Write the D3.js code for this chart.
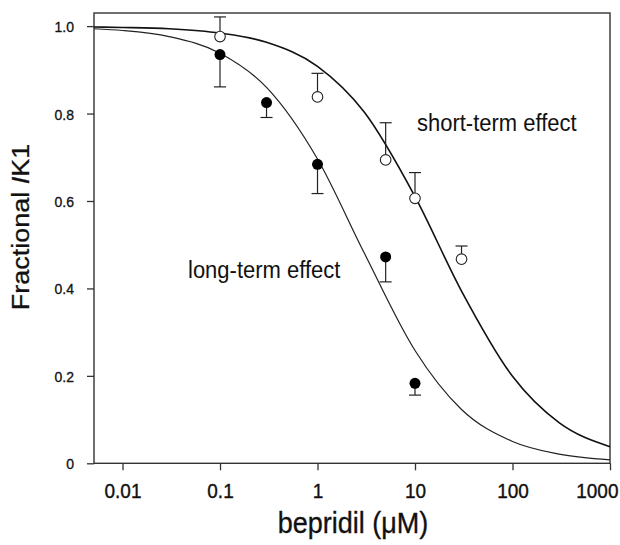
<!DOCTYPE html>
<html>
<head>
<meta charset="utf-8">
<script src="https://cdn.jsdelivr.net/npm/d3@7"></script>
<style>
  body { margin: 0; background: #fff; }
  text { font-family: "Liberation Sans", Arial, sans-serif; fill: #111; }
</style>
</head>
<body>
<svg id="chart" width="620" height="545"></svg>
<script>
// concentrations (uM) and fractional IK1
var longDose  = [0.1, 0.3, 1, 5, 10];
var longMean  = [0.935, 0.825, 0.684, 0.472, 0.183];
var longErr   = [0.074, 0.034, 0.067, 0.057, 0.027];   // drawn downward

var shortDose = [0.1, 1, 5, 10, 30];
var shortMean = [0.976, 0.838, 0.694, 0.606, 0.467];
var shortErr  = [0.045, 0.054, 0.085, 0.059, 0.030];   // drawn upward

// fitted curves, values
var curveDose  = [0.0051, 0.01, 0.03, 0.1, 0.3, 1, 3, 10, 30, 100, 300, 1000];
var longCurve  = [0.994, 0.990, 0.976, 0.938, 0.860, 0.696, 0.482, 0.258, 0.123, 0.050, 0.021, 0.008];
var shortCurve = [0.998, 0.997, 0.994, 0.984, 0.963, 0.908, 0.804, 0.610, 0.394, 0.199, 0.093, 0.038];

var xTicks = [0.01, 0.1, 1, 10, 100, 1000];
var xTickLabels = ["0.01", "0.1", "1", "10", "100", "1000"];
var yTicks = [0, 0.2, 0.4, 0.6, 0.8, 1.0];
var yTickLabels = ["0", "0.2", "0.4", "0.6", "0.8", "1.0"];

var svg = d3.select("#chart");
var L = 94, R = 610, T = 13, B = 463.3;

var x = d3.scaleLog().domain([0.0051, 1000]).range([L, R]);
var y = d3.scaleLinear().domain([0, 1.03]).range([B, T]);

// frame
svg.append("rect")
    .attr("x", L).attr("y", T)
    .attr("width", R - L).attr("height", B - T)
    .attr("fill", "none").attr("stroke", "#333").attr("stroke-width", 1.4);

// x axis
var xAxis = svg.append("g")
    .attr("transform", "translate(0," + B + ")")
    .call(d3.axisBottom(x).tickValues(xTicks).tickSize(7).tickSizeOuter(0)
        .tickFormat(function (d, i) { return xTickLabels[i]; }));
xAxis.select(".domain").remove();
xAxis.selectAll("line").attr("stroke", "#333").attr("stroke-width", 1.3);
xAxis.selectAll("text")
    .attr("y", 0).attr("dy", 0)
    .attr("transform", "translate(0,35) scale(1,1.1)")
    .attr("stroke", "#111").attr("stroke-width", 0.35)
    .style("font-size", "19px");
// last label sits against the right edge, as in the figure
xAxis.selectAll("text").filter(function (d) { return d === 1000; })
    .attr("text-anchor", "end")
    .attr("x", 618 - x(1000));

// y axis
var yAxis = svg.append("g")
    .attr("transform", "translate(" + L + ",0)")
    .call(d3.axisLeft(y).tickValues(yTicks).tickSize(7).tickSizeOuter(0)
        .tickFormat(function (d, i) { return yTickLabels[i]; }));
yAxis.select(".domain").remove();
yAxis.selectAll("line").attr("stroke", "#333").attr("stroke-width", 1.3);
yAxis.selectAll("text")
    .attr("x", 0).attr("dy", 0)
    .attr("transform", "translate(-20,5.5) scale(1,1.1)")
    .attr("stroke", "#111").attr("stroke-width", 0.3)
    .style("font-size", "14px");

// curves
var line = d3.line()
    .x(function (d) { return x(d[0]); })
    .y(function (d) { return y(d[1]); })
    .curve(d3.curveMonotoneX);

svg.append("path")
    .datum(d3.zip(curveDose, shortCurve))
    .attr("d", line)
    .attr("fill", "none").attr("stroke", "#111").attr("stroke-width", 1.6);

svg.append("path")
    .datum(d3.zip(curveDose, longCurve))
    .attr("d", line)
    .attr("fill", "none").attr("stroke", "#222").attr("stroke-width", 1.2);

// error bars
function errorBars(dose, mean, err, dir) {
    var g = svg.append("g").attr("stroke", "#222").attr("stroke-width", 1.2);
    dose.forEach(function (d, i) {
        var yEnd = y(mean[i] + dir * err[i]);
        g.append("line")
            .attr("x1", x(d)).attr("x2", x(d))
            .attr("y1", y(mean[i])).attr("y2", yEnd);
        g.append("line")
            .attr("x1", x(d) - 6).attr("x2", x(d) + 6)
            .attr("y1", yEnd).attr("y2", yEnd);
    });
}
errorBars(longDose, longMean, longErr, -1);
errorBars(shortDose, shortMean, shortErr, 1);

// points
svg.append("g").selectAll("circle")
    .data(d3.zip(longDose, longMean))
    .join("circle")
    .attr("cx", function (d) { return x(d[0]); })
    .attr("cy", function (d) { return y(d[1]); })
    .attr("r", 5.5)
    .attr("fill", "#000");

svg.append("g").selectAll("circle")
    .data(d3.zip(shortDose, shortMean))
    .join("circle")
    .attr("cx", function (d) { return x(d[0]); })
    .attr("cy", function (d) { return y(d[1]); })
    .attr("r", 5.3)
    .attr("fill", "#fff").attr("stroke", "#222").attr("stroke-width", 1.1);

// annotations
svg.append("text")
    .attr("transform", "translate(417,131) scale(1,1.1)")
    .style("font-size", "22px")
    .text("short-term effect");

svg.append("text")
    .attr("transform", "translate(188,278) scale(1,1.1)")
    .style("font-size", "22px")
    .text("long-term effect");

// axis titles
svg.append("text")
    .attr("transform", "translate(353,533) scale(1,1.1)")
    .attr("text-anchor", "middle")
    .attr("stroke", "#111").attr("stroke-width", 0.3)
    .style("font-size", "27px")
    .text("bepridil (\u03bcM)");

var yt = svg.append("text")
    .attr("transform", "translate(29,227) rotate(-90) scale(1.1,1)")
    .attr("text-anchor", "middle")
    .attr("stroke", "#111").attr("stroke-width", 0.3)
    .style("font-size", "24.5px");
yt.append("tspan").text("Fractional ");
yt.append("tspan").style("font-style", "italic").text("I");
yt.append("tspan").text("K1");
</script>
</body>
</html>
